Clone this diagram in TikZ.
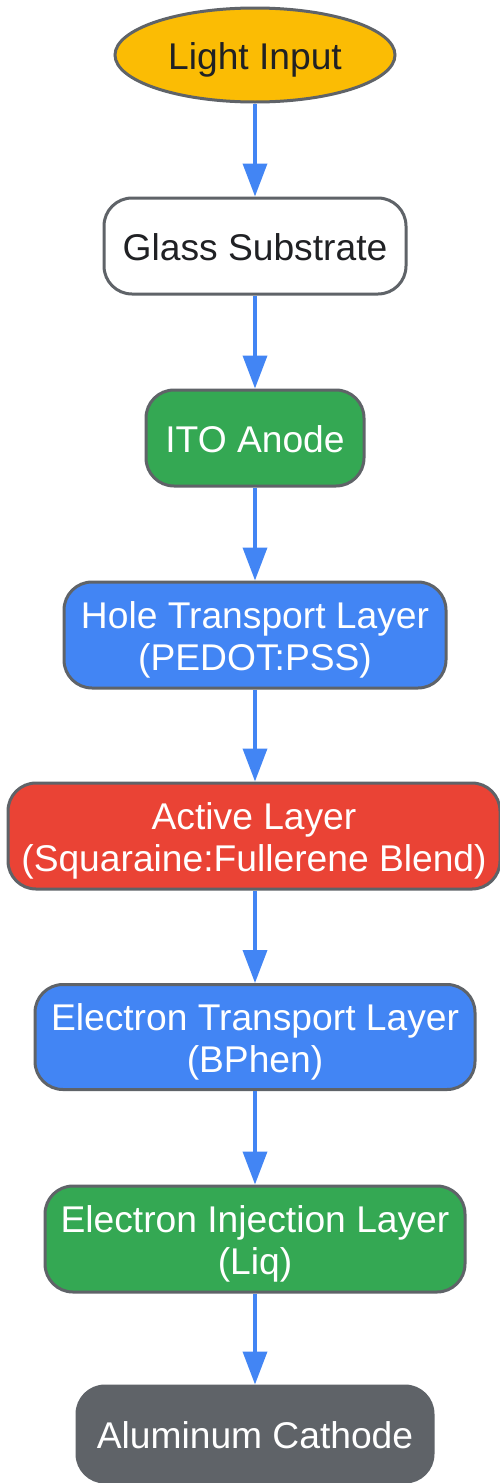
\documentclass[tikz,border=0pt]{standalone}
\usepackage{fontspec}
\setmainfont{Liberation Sans}
\usetikzlibrary{shapes.geometric,arrows.meta}
\definecolor{bordergray}{HTML}{5F6368}
\definecolor{gyellow}{HTML}{FBBC04}
\definecolor{ggreen}{HTML}{34A853}
\definecolor{gblue}{HTML}{4285F4}
\definecolor{gred}{HTML}{EA4335}
\definecolor{gdark}{HTML}{202124}
\newcommand\hs{\rule{0pt}{36pt}}
\newcommand\ds{\rule[-7.5pt]{0pt}{0pt}}
\tikzset{
  box/.style={draw=bordergray, line width=3pt, rounded corners=28pt, align=center, inner sep=0pt,
    font=\fontsize{37.2}{41.7}\selectfont, text=white},
  arr/.style={draw=gblue, line width=3.6pt, -{Triangle[length=33pt,width=24pt]}},
}
\begin{document}
\begin{tikzpicture}[x=1pt,y=-1pt]
\useasboundingbox (0,0) rectangle (500,1483);
\fill[white] (0,0) rectangle (500,1483);
\node[ellipse, draw=bordergray, line width=3pt, fill=gyellow, text=gdark, minimum width=280pt, minimum height=94pt, inner sep=0pt, font=\fontsize{37.2}{41.7}\selectfont] (light) at (255,55) {\hs Light Input\ds};
\node[box, fill=white, text=gdark, minimum width=302pt, minimum height=96pt] (glass) at (255,246) {\hs Glass Substrate\ds};
\node[box, fill=ggreen, minimum width=218pt, minimum height=96pt] (ito) at (255,438) {\hs ITO Anode\ds};
\node[box, fill=gblue, minimum width=382pt, minimum height=106pt] (htl) at (255,635) {\hs Hole Transport Layer\\(PEDOT:PSS)\ds};
\node[box, fill=gred, minimum width=492pt, minimum height=106pt] (act) at (254,836) {\hs Active Layer\\(Squaraine:Fullerene Blend)\ds};
\node[box, fill=gblue, minimum width=440pt, minimum height=105pt] (etl) at (255,1037) {\hs Electron Transport Layer\\(BPhen)\ds};
\node[box, fill=ggreen, minimum width=420pt, minimum height=106pt] (eil) at (255,1239) {\hs Electron Injection Layer\\(Liq)\ds};
\node[box, fill=bordergray, minimum width=356pt, minimum height=96pt] (cath) at (255,1434) {\hs Aluminum Cathode\ds};
\draw[arr] (light) -- (glass);
\draw[arr] (glass) -- (ito);
\draw[arr] (ito) -- (htl);
\draw[arr] (htl) -- (act.north -| htl.south);
\draw[arr] (act.south -| etl.north) -- (etl);
\draw[arr] (etl) -- (eil);
\draw[arr] (eil) -- (cath);
\end{tikzpicture}
\end{document}
